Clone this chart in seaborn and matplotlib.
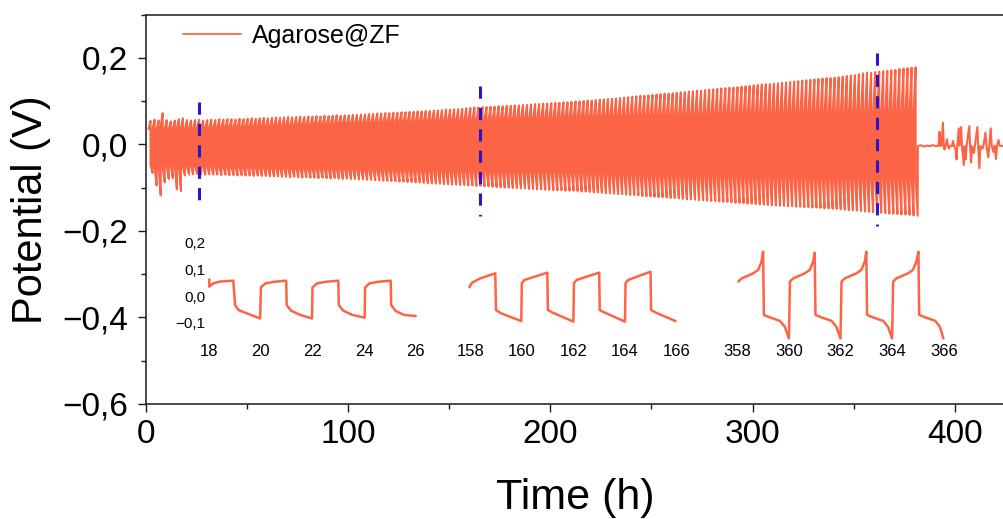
import numpy as np
import pandas as pd
import matplotlib
matplotlib.use("Agg")
import matplotlib.pyplot as plt
import seaborn as sns
from matplotlib.ticker import MultipleLocator, FixedLocator, FuncFormatter
from matplotlib.lines import Line2D

sns.set_theme(style="ticks")
plt.rcParams['font.family'] = ['Liberation Sans', 'DejaVu Sans']
plt.rcParams['text.color'] = 'black'
plt.rcParams['axes.labelcolor'] = 'black'

# ---------------- data ----------------
series_name = "Agarose@ZF"
x_label = "Time (h)"
y_label = "Potential (V)"

cycle_period_h = 2.0
first_cycle_start_h = 1.5

# end-of-charge potential per cycle (V)
peak_hi = [
    0.054, 0.057, 0.055, 0.072, 0.056, 0.053, 0.055, 0.058, 0.060, 0.056,
    0.055, 0.056, 0.057, 0.055, 0.056, 0.057, 0.056, 0.058, 0.057, 0.058,
    0.058, 0.057, 0.059, 0.058, 0.059, 0.060, 0.059, 0.060, 0.061, 0.060,
    0.061, 0.062, 0.061, 0.062, 0.063, 0.062, 0.063, 0.064, 0.063, 0.064,
    0.064, 0.065, 0.064, 0.066, 0.065, 0.066, 0.067, 0.066, 0.067, 0.067,
    0.068, 0.068, 0.069, 0.069, 0.070, 0.070, 0.071, 0.071, 0.072, 0.072,
    0.073, 0.073, 0.074, 0.074, 0.075, 0.075, 0.076, 0.076, 0.077, 0.077,
    0.078, 0.078, 0.079, 0.080, 0.080, 0.081, 0.081, 0.082, 0.083, 0.084,
    0.085, 0.085, 0.086, 0.086, 0.087, 0.087, 0.088, 0.088, 0.089, 0.089,
    0.090, 0.090, 0.091, 0.091, 0.092, 0.093, 0.093, 0.094, 0.094, 0.095,
    0.096, 0.096, 0.097, 0.097, 0.098, 0.099, 0.099, 0.100, 0.101, 0.101,
    0.102, 0.103, 0.104, 0.105, 0.105, 0.106, 0.107, 0.108, 0.109, 0.110,
    0.111, 0.112, 0.112, 0.113, 0.114, 0.115, 0.116, 0.117, 0.117, 0.118,
    0.119, 0.120, 0.121, 0.122, 0.123, 0.124, 0.124, 0.125, 0.126, 0.127,
    0.128, 0.129, 0.130, 0.131, 0.131, 0.132, 0.133, 0.134, 0.135, 0.136,
    0.137, 0.138, 0.139, 0.139, 0.140, 0.141, 0.142, 0.143, 0.144, 0.145,
    0.146, 0.147, 0.148, 0.149, 0.150, 0.151, 0.152, 0.153, 0.153, 0.154,
    0.155, 0.156, 0.158, 0.159, 0.160, 0.162, 0.164, 0.166, 0.165, 0.167,
    0.168, 0.169, 0.170, 0.171, 0.172, 0.174, 0.175, 0.176, 0.177, 0.178,
]
# end-of-discharge potential per cycle (V)
peak_lo = [
    -0.066, -0.095, -0.118, -0.088, -0.080, -0.078, -0.104, -0.108, -0.072, -0.070,
    -0.069, -0.068, -0.069, -0.070, -0.069, -0.070, -0.070, -0.071, -0.070, -0.071,
    -0.071, -0.072, -0.071, -0.072, -0.072, -0.073, -0.072, -0.073, -0.073, -0.074,
    -0.074, -0.074, -0.075, -0.075, -0.076, -0.075, -0.076, -0.077, -0.076, -0.077,
    -0.077, -0.078, -0.077, -0.078, -0.079, -0.078, -0.079, -0.080, -0.079, -0.080,
    -0.080, -0.081, -0.081, -0.082, -0.082, -0.083, -0.083, -0.084, -0.084, -0.085,
    -0.085, -0.086, -0.086, -0.087, -0.087, -0.088, -0.088, -0.089, -0.090, -0.090,
    -0.091, -0.091, -0.092, -0.092, -0.093, -0.093, -0.094, -0.094, -0.095, -0.095,
    -0.096, -0.096, -0.097, -0.097, -0.098, -0.099, -0.099, -0.100, -0.100, -0.101,
    -0.101, -0.102, -0.102, -0.103, -0.103, -0.104, -0.104, -0.105, -0.105, -0.106,
    -0.106, -0.106, -0.107, -0.107, -0.107, -0.108, -0.109, -0.109, -0.110, -0.111,
    -0.111, -0.112, -0.113, -0.113, -0.114, -0.115, -0.115, -0.116, -0.117, -0.117,
    -0.118, -0.119, -0.120, -0.120, -0.121, -0.122, -0.122, -0.123, -0.124, -0.124,
    -0.125, -0.126, -0.127, -0.127, -0.128, -0.129, -0.129, -0.130, -0.131, -0.131,
    -0.132, -0.133, -0.133, -0.134, -0.135, -0.135, -0.136, -0.137, -0.137, -0.138,
    -0.139, -0.139, -0.140, -0.141, -0.141, -0.142, -0.142, -0.143, -0.143, -0.144,
    -0.144, -0.145, -0.145, -0.146, -0.146, -0.147, -0.148, -0.148, -0.149, -0.149,
    -0.150, -0.151, -0.152, -0.152, -0.153, -0.154, -0.155, -0.156, -0.157, -0.158,
    -0.158, -0.159, -0.160, -0.160, -0.161, -0.162, -0.162, -0.163, -0.164, -0.165,
]
# potential right after switching to charge, per cycle (V)
core_hi = [
    0.035, 0.036, 0.034, 0.040, 0.036, 0.035, 0.036, 0.037, 0.038, 0.036,
    0.037, 0.037, 0.038, 0.037, 0.038, 0.038, 0.038, 0.039, 0.039, 0.039,
    0.040, 0.039, 0.040, 0.040, 0.041, 0.041, 0.041, 0.042, 0.042, 0.042,
    0.042, 0.043, 0.043, 0.043, 0.044, 0.044, 0.044, 0.045, 0.045, 0.045,
    0.045, 0.046, 0.046, 0.046, 0.047, 0.047, 0.047, 0.048, 0.048, 0.048,
    0.048, 0.049, 0.049, 0.049, 0.050, 0.050, 0.050, 0.050, 0.051, 0.051,
    0.051, 0.051, 0.052, 0.052, 0.052, 0.052, 0.053, 0.053, 0.053, 0.053,
    0.054, 0.054, 0.054, 0.054, 0.055, 0.055, 0.055, 0.055, 0.055, 0.056,
    0.056, 0.056, 0.056, 0.057, 0.057, 0.057, 0.057, 0.058, 0.058, 0.058,
    0.058, 0.058, 0.059, 0.059, 0.059, 0.059, 0.059, 0.060, 0.060, 0.060,
    0.060, 0.060, 0.061, 0.061, 0.061, 0.061, 0.061, 0.062, 0.062, 0.062,
    0.062, 0.062, 0.062, 0.063, 0.063, 0.063, 0.063, 0.063, 0.063, 0.064,
    0.064, 0.064, 0.064, 0.064, 0.064, 0.065, 0.065, 0.065, 0.065, 0.065,
    0.065, 0.065, 0.066, 0.066, 0.066, 0.066, 0.066, 0.066, 0.066, 0.067,
    0.067, 0.067, 0.067, 0.067, 0.067, 0.067, 0.068, 0.068, 0.068, 0.068,
    0.068, 0.068, 0.068, 0.068, 0.069, 0.069, 0.069, 0.069, 0.069, 0.069,
    0.069, 0.069, 0.070, 0.070, 0.070, 0.070, 0.070, 0.070, 0.070, 0.070,
    0.070, 0.071, 0.071, 0.071, 0.071, 0.071, 0.071, 0.071, 0.071, 0.072,
    0.072, 0.072, 0.072, 0.072, 0.072, 0.072, 0.072, 0.073, 0.073, 0.073,
]
# potential right after switching to discharge, per cycle (V)
core_lo = [
    -0.048, -0.050, -0.052, -0.055, -0.050, -0.049, -0.050, -0.052, -0.053, -0.050,
    -0.050, -0.050, -0.051, -0.051, -0.051, -0.051, -0.052, -0.052, -0.052, -0.052,
    -0.052, -0.053, -0.053, -0.053, -0.053, -0.053, -0.054, -0.054, -0.054, -0.054,
    -0.054, -0.054, -0.055, -0.055, -0.055, -0.055, -0.055, -0.055, -0.056, -0.056,
    -0.056, -0.056, -0.056, -0.056, -0.056, -0.057, -0.057, -0.057, -0.057, -0.057,
    -0.057, -0.057, -0.058, -0.058, -0.058, -0.058, -0.058, -0.058, -0.058, -0.059,
    -0.059, -0.059, -0.059, -0.059, -0.059, -0.059, -0.059, -0.060, -0.060, -0.060,
    -0.060, -0.060, -0.060, -0.060, -0.060, -0.060, -0.061, -0.061, -0.061, -0.061,
    -0.061, -0.061, -0.061, -0.061, -0.061, -0.062, -0.062, -0.062, -0.062, -0.062,
    -0.062, -0.062, -0.062, -0.062, -0.062, -0.062, -0.062, -0.062, -0.062, -0.062,
    -0.062, -0.063, -0.063, -0.063, -0.064, -0.064, -0.064, -0.065, -0.065, -0.065,
    -0.065, -0.066, -0.066, -0.066, -0.066, -0.067, -0.067, -0.067, -0.067, -0.068,
    -0.068, -0.068, -0.068, -0.069, -0.069, -0.069, -0.069, -0.069, -0.070, -0.070,
    -0.070, -0.070, -0.070, -0.071, -0.071, -0.071, -0.071, -0.071, -0.072, -0.072,
    -0.072, -0.072, -0.072, -0.072, -0.072, -0.073, -0.073, -0.073, -0.073, -0.073,
    -0.073, -0.073, -0.073, -0.074, -0.074, -0.074, -0.074, -0.074, -0.074, -0.074,
    -0.075, -0.075, -0.075, -0.075, -0.075, -0.075, -0.075, -0.075, -0.076, -0.076,
    -0.076, -0.076, -0.076, -0.076, -0.076, -0.076, -0.076, -0.077, -0.077, -0.077,
    -0.077, -0.077, -0.077, -0.077, -0.077, -0.077, -0.077, -0.077, -0.077, -0.077,
]
# after cell failure: near-zero trace with sporadic spikes
tail_t = [381.6, 383.0, 384.5, 386.0, 387.5, 389.0, 390.5, 391.8, 392.3, 392.7,
          393.3, 394.0, 394.4, 394.8, 395.3, 396.0, 396.4, 397.0, 397.5, 398.5,
          399.0, 399.5, 400.2, 400.7, 401.1, 401.8, 402.2, 403.0, 403.4, 404.3,
          404.7, 405.2, 405.7, 407.0, 407.4, 407.9, 408.4, 409.3, 409.8, 411.0,
          411.4, 412.0, 412.5, 413.5, 414.0, 415.0, 415.5, 416.4, 416.9, 417.6,
          418.1, 419.0, 419.5, 420.2, 420.7, 421.5, 422.0, 423.0, 424.5]
tail_v = [-0.004, -0.002, -0.005, -0.003, -0.004, -0.002, -0.004, -0.003, 0.029, -0.004,
          -0.003, 0.050, -0.006, -0.012, -0.003, 0.012, -0.004, -0.010, -0.003, -0.004,
          0.008, -0.004, -0.012, -0.035, -0.004, 0.037, -0.003, 0.040, -0.005, -0.048,
          -0.004, -0.035, -0.003, 0.042, -0.003, -0.042, -0.004, -0.020, -0.003, 0.040,
          -0.004, -0.055, -0.004, -0.010, -0.004, 0.027, -0.004, -0.030, -0.003, 0.037,
          -0.004, -0.018, -0.003, -0.034, -0.004, 0.010, -0.003, -0.004, -0.004]

# markers of the zoomed windows
marker_t = [26.2, 165.2, 361.6]
marker_top = [0.098, 0.134, 0.211]
marker_bottom = [-0.143, -0.165, -0.188]

# zoomed windows (insets)
inset1_t = [18.0, 18.0, 18.16, 18.41, 18.93, 19.0, 19.13, 19.52, 19.97,
            20.0, 20.17, 20.5, 20.98, 21.0, 21.17, 21.53, 21.98,
            22.0, 22.17, 22.5, 23.0, 23.02, 23.19, 23.55, 24.02,
            24.04, 24.2, 24.53, 25.03, 25.05, 25.22, 25.55, 26.0]
inset1_v = [0.0625, 0.035, 0.0475, 0.054, 0.0575, -0.034, -0.0525, -0.0675, -0.084,
            0.032, 0.047, 0.053, 0.0575, -0.034, -0.055, -0.071, -0.084,
            0.032, 0.047, 0.053, 0.0575, -0.034, -0.055, -0.071, -0.081,
            0.032, 0.047, 0.053, 0.0575, -0.034, -0.056, -0.071, -0.075]
inset2_t = [157.97, 158.07, 158.39, 158.97, 159.0, 159.2, 159.98,
            160.0, 160.1, 160.99, 161.01, 161.2, 162.0,
            162.02, 162.12, 163.0, 163.02, 163.22, 164.0,
            164.02, 164.12, 164.99, 165.01, 165.2, 165.96]
inset2_v = [0.0325, 0.050, 0.066, 0.085, -0.0525, -0.065, -0.094,
            0.0475, 0.060, 0.0875, -0.0525, -0.0625, -0.096,
            0.0475, 0.060, 0.0875, -0.0525, -0.0625, -0.096,
            0.0475, 0.060, 0.091, -0.0525, -0.0625, -0.094]
inset3_t = [358.04, 358.17, 358.62, 358.81, 358.94, 359.0, 359.03, 359.26, 359.65, 359.84, 360.0,
            360.04, 360.17, 360.62, 360.81, 360.94, 361.0, 361.03, 361.26, 361.65, 361.84, 362.0,
            362.04, 362.17, 362.62, 362.81, 362.94, 363.0, 363.03, 363.26, 363.65, 363.84, 364.0,
            364.04, 364.17, 364.62, 364.81, 364.94, 365.02, 365.05, 365.28, 365.67, 365.85, 365.99]
inset3_v = [0.054, 0.066, 0.085, 0.098, 0.129, 0.166, -0.071, -0.080, -0.093, -0.115, -0.159,
            0.054, 0.066, 0.085, 0.098, 0.129, 0.162, -0.071, -0.080, -0.093, -0.115, -0.159,
            0.054, 0.066, 0.085, 0.098, 0.129, 0.166, -0.071, -0.080, -0.093, -0.115, -0.159,
            0.054, 0.066, 0.085, 0.098, 0.129, 0.166, -0.071, -0.080, -0.093, -0.115, -0.159]
inset_windows = [(18, 26), (158, 166), (358, 366)]
inset_xticks = [[18, 20, 22, 24, 26], [158, 160, 162, 164, 166], [358, 360, 362, 364, 366]]
inset_yticks = [-0.1, 0.0, 0.1, 0.2]

main_xticks = [0, 100, 200, 300, 400]
main_yticks = [-0.6, -0.4, -0.2, 0.0, 0.2]

# ---------------- styling ----------------
line_color = "#FB6546"
marker_color = "#2D14C8"
spine_color = "#1a1a1a"
W, H = 1004, 519


def comma_fmt(v, pos=None):
    if abs(v) < 1e-9:
        v = 0.0
    s = f"{v:.1f}".replace(".", ",")
    return s.replace("-", "\u2212")


# build main trace from per-cycle values
t_main, v_main = [], []
for i in range(len(peak_hi)):
    t0 = first_cycle_start_h + cycle_period_h * i
    half = cycle_period_h / 2
    t_main += [t0, t0 + half, t0 + half, t0 + cycle_period_h]
    v_main += [core_hi[i], peak_hi[i], core_lo[i], peak_lo[i]]
t_main += tail_t
v_main += tail_v
df_main = pd.DataFrame({"t": t_main, "v": v_main})

fig = plt.figure(figsize=(W / 100, H / 100), dpi=100)
fig.patch.set_facecolor("white")

ax_left, ax_right, ax_top, ax_bottom = 145.5, 1006.0, 14.5, 404.0
ax = fig.add_axes([ax_left / W, (H - ax_bottom) / H,
                   (ax_right - ax_left) / W, (ax_bottom - ax_top) / H])
ax.set_facecolor("white")

sns.lineplot(data=df_main, x="t", y="v", sort=False, estimator=None, ax=ax,
             color=line_color, lw=1.5, legend=False)

for xt, y0, y1 in zip(marker_t, marker_top, marker_bottom):
    df_m = pd.DataFrame({"t": [xt, xt], "v": [y0, y1]})
    sns.lineplot(data=df_m, x="t", y="v", sort=False, estimator=None, ax=ax,
                 color=marker_color, lw=2.2, dashes=False, legend=False)
    ax.lines[-1].set_dashes((4, 3))
    ax.lines[-1].set_zorder(5)

xscale_px = 2.024
ax.set_xlim(0, (ax_right - ax_left) / xscale_px)
ax.set_ylim(-0.6, 0.3)
ax.xaxis.set_major_locator(FixedLocator(main_xticks))
ax.xaxis.set_minor_locator(MultipleLocator(50))
ax.yaxis.set_major_locator(FixedLocator(main_yticks))
ax.yaxis.set_minor_locator(MultipleLocator(0.1))
ax.yaxis.set_major_formatter(FuncFormatter(comma_fmt))

ax.spines["right"].set_visible(False)
for s in ["left", "bottom", "top"]:
    ax.spines[s].set_linewidth(1.1)
    ax.spines[s].set_color(spine_color)
ax.tick_params(axis="both", which="major", direction="out", length=6,
               width=1.0, color=spine_color, labelsize=24, labelcolor="black")
ax.tick_params(axis="both", which="minor", direction="out", length=3.5,
               width=1.0, color=spine_color)
ax.tick_params(axis="y", which="major", pad=6.5)
ax.tick_params(axis="x", which="major", pad=5)
ax.tick_params(top=False, right=False, which="both")

ax.set_xlabel(x_label, fontsize=31, labelpad=20, color="black")
ax.set_ylabel(y_label, fontsize=30, labelpad=8, color="black")
ax.grid(False)

handle = Line2D([], [], color=line_color, lw=1.3)
ax.legend(handles=[handle], labels=[series_name], loc="upper left",
          bbox_to_anchor=(0.0437, 0.975), frameon=False, fontsize=18,
          handlelength=2.3, handletextpad=0.45, borderpad=0, borderaxespad=0,
          labelcolor="black")

# ---------------- insets ----------------
inset_data = [(inset1_t, inset1_v), (inset2_t, inset2_v), (inset3_t, inset3_v)]
inset_first_px = [209.3, 470.2, 737.3]
px_per_h = 25.8
inset_ylim = (-0.17, 0.22)
zero_px, px_per_v = 296.0, 267.0
top_px = zero_px - inset_ylim[1] * px_per_v
bot_px = zero_px - inset_ylim[0] * px_per_v
for k, ((it, iv), (w0, w1), first_px) in enumerate(zip(inset_data, inset_windows, inset_first_px)):
    x0 = w0 - 0.1
    x1 = w1 + 0.3
    left_px = first_px - (w0 - x0) * px_per_h
    width_px = (x1 - x0) * px_per_h
    iax = fig.add_axes([left_px / W, (H - bot_px) / H, width_px / W, (bot_px - top_px) / H])
    iax.patch.set_alpha(0)
    df_i = pd.DataFrame({"t": it, "v": iv})
    sns.lineplot(data=df_i, x="t", y="v", sort=False, estimator=None, ax=iax,
                 color=line_color, lw=1.8, legend=False)
    iax.set_xlim(x0, x1)
    iax.set_ylim(*inset_ylim)
    iax.xaxis.set_major_locator(FixedLocator(inset_xticks[k]))
    iax.set_xticklabels([str(v) for v in inset_xticks[k]])
    iax.yaxis.set_major_locator(FixedLocator(inset_yticks))
    iax.yaxis.set_major_formatter(FuncFormatter(comma_fmt))
    for s in iax.spines.values():
        s.set_visible(False)
    iax.tick_params(axis="both", length=0, labelcolor="black")
    iax.tick_params(axis="x", labelsize=12, pad=2)
    iax.tick_params(axis="y", labelsize=11, pad=1)
    if k > 0:
        iax.set_yticklabels([])
    iax.set_xlabel("")
    iax.set_ylabel("")
    iax.grid(False)

fig.savefig("out.png", dpi=100, facecolor="white")
